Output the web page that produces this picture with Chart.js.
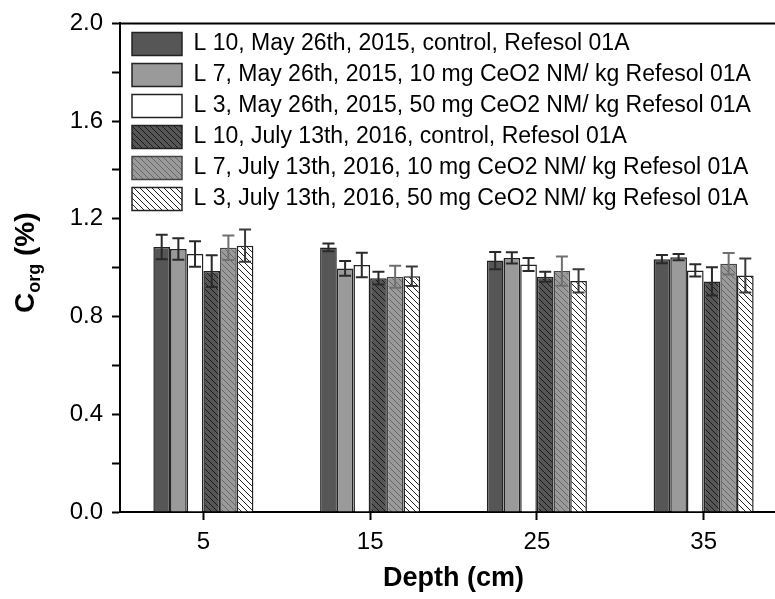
<!DOCTYPE html>
<html>
<head>
<meta charset="utf-8">
<script src="https://cdn.jsdelivr.net/npm/chart.js@4.4.1/dist/chart.umd.min.js"></script>
<style>
  html, body { margin: 0; padding: 0; overflow: hidden; background: #fff; }
  #chart { display: block; }
</style>
</head>
<body>
<canvas id="chart" width="789" height="599"></canvas>
<script>
// profundidades (cm)
const depths = ['5', '15', '25', '35'];

const seriesLabels = [
  'L 10, May 26th, 2015, control, Refesol 01A',
  'L 7, May 26th, 2015, 10 mg CeO2 NM/ kg Refesol 01A',
  'L 3, May 26th, 2015, 50 mg CeO2 NM/ kg Refesol 01A',
  'L 10, July 13th, 2016, control, Refesol 01A',
  'L 7, July 13th, 2016, 10 mg CeO2 NM/ kg Refesol 01A',
  'L 3, July 13th, 2016, 50 mg CeO2 NM/ kg Refesol 01A'
];

// Corg (%) por serie
const l10_2015 = [1.085, 1.083, 1.029, 1.035];
const l7_2015  = [1.077, 0.997, 1.040, 1.043];
const l3_2015  = [1.056, 1.011, 1.013, 0.989];
const l10_2016 = [0.986, 0.957, 0.963, 0.944];
const l7_2016  = [1.082, 0.963, 0.986, 1.016];
const l3_2016  = [1.090, 0.965, 0.946, 0.968];

// desviaciones
const l10_2015Err = [0.050, 0.016, 0.035, 0.017];
const l7_2015Err  = [0.044, 0.030, 0.023, 0.013];
const l3_2015Err  = [0.052, 0.050, 0.027, 0.025];
const l10_2016Err = [0.065, 0.026, 0.020, 0.058];
const l7_2016Err  = [0.050, 0.045, 0.060, 0.044];
const l3_2016Err  = [0.066, 0.040, 0.048, 0.070];

const yTicksMin = 0;
const yTicksMax = 2.0;
const yTickStep = 0.2;

function hatch(bg, lineColor) {
  const size = 6;
  const c = document.createElement('canvas');
  c.width = size; c.height = size;
  const g = c.getContext('2d');
  g.fillStyle = bg;
  g.fillRect(0, 0, size, size);
  g.strokeStyle = lineColor;
  g.lineWidth = 1;
  g.beginPath();
  g.moveTo(-1, -1); g.lineTo(size + 1, size + 1);
  g.moveTo(-1, size - 1); g.lineTo(1, size + 1);
  g.moveTo(size - 1, -1); g.lineTo(size + 1, 1);
  g.stroke();
  return g.createPattern(c, 'repeat');
}

const ctx = document.getElementById('chart').getContext('2d');

const styles = [
  { bg: '#565656', border: '#222', err: '#2a2a2a' },
  { bg: '#9a9a9a', border: '#222', err: '#2a2a2a' },
  { bg: '#ffffff', border: '#222', err: '#2a2a2a' },
  { bg: hatch('#565656', '#1a1a1a'), border: '#222', err: '#2a2a2a' },
  { bg: hatch('#9a9a9a', '#666'), border: '#444', err: '#707070' },
  { bg: hatch('#ffffff', '#222'), border: '#222', err: '#3a3a3a' }
];

const values = [l10_2015, l7_2015, l3_2015, l10_2016, l7_2016, l3_2016];
const errors = [l10_2015Err, l7_2015Err, l3_2015Err, l10_2016Err, l7_2016Err, l3_2016Err];

const datasets = seriesLabels.map((label, i) => ({
  label,
  data: values[i],
  errors: errors[i],
  errColor: styles[i].err,
  backgroundColor: styles[i].bg,
  borderColor: styles[i].border,
  borderWidth: 1.5,
  categoryPercentage: 0.6,
  barPercentage: 1.0
}));

// barras de error
const errorBars = {
  id: 'errorBars',
  afterDatasetsDraw(chart) {
    const c = chart.ctx;
    const y = chart.scales.y;
    chart.data.datasets.forEach((ds, di) => {
      const meta = chart.getDatasetMeta(di);
      meta.data.forEach((bar, i) => {
        const v = ds.data[i], e = ds.errors[i];
        const top = y.getPixelForValue(v + e);
        const bot = y.getPixelForValue(v - e);
        const half = 6;
        c.save();
        c.strokeStyle = ds.errColor;
        c.lineWidth = 2;
        c.beginPath();
        c.moveTo(bar.x, top); c.lineTo(bar.x, bot);
        c.moveTo(bar.x - half, top); c.lineTo(bar.x + half, top);
        c.moveTo(bar.x - half, bot); c.lineTo(bar.x + half, bot);
        c.stroke();
        c.restore();
      });
    });
  }
};

// marco superior + titulo eje Y con subindice
const frameAndTitle = {
  id: 'frameAndTitle',
  afterLayout(chart) {
    const lg = chart.legend;
    const a = chart.chartArea;
    lg.left = a.left + 4;
    lg.top = a.top + 1;
    lg.right = lg.left + 650;
    lg.bottom = lg.top + 220;
  },
  afterDraw(chart) {
    const c = chart.ctx;
    const a = chart.chartArea;
    c.save();
    c.strokeStyle = '#000';
    c.lineWidth = 2;
    c.beginPath();
    c.moveTo(a.left - 1, a.top);
    c.lineTo(a.right + 2, a.top);
    c.stroke();

    c.translate(34, 313);
    c.rotate(-Math.PI / 2);
    c.fillStyle = '#000';
    c.textBaseline = 'alphabetic';
    c.textAlign = 'left';
    c.font = 'bold 28px "Liberation Sans", Arial, sans-serif';
    c.fillText('C', 0, 0);
    let x = c.measureText('C').width;
    c.font = 'bold 18px "Liberation Sans", Arial, sans-serif';
    c.fillText('org', x, 6);
    x += c.measureText('org').width;
    c.font = 'bold 28px "Liberation Sans", Arial, sans-serif';
    c.fillText(' (%)', x, 0);
    c.restore();
  }
};

new Chart(ctx, {
  type: 'bar',
  data: { labels: depths, datasets },
  options: {
    responsive: false,
    animation: false,
    layout: { padding: { left: 0, right: 2, top: 21, bottom: 0 } },
    plugins: {
      legend: {
        position: 'chartArea',
        align: 'start',
        labels: {
          boxWidth: 50,
          boxHeight: 23,
          padding: 8,
          color: '#000',
          font: { family: '"Liberation Sans", Arial, sans-serif', size: 23 }
        }
      },
      tooltip: { enabled: false }
    },
    scales: {
      x: {
        afterFit: (s) => { s.height = 87; },
        grid: { offset: false, drawOnChartArea: false, tickLength: 8, tickWidth: 2, tickColor: '#000' },
        border: { color: '#000', width: 2 },
        ticks: { color: '#000', padding: 8, font: { family: '"Liberation Sans", Arial, sans-serif', size: 24 } },
        title: {
          display: true,
          text: 'Depth (cm)',
          color: '#000',
          padding: { top: 0, bottom: 4 },
          font: { family: '"Liberation Sans", Arial, sans-serif', size: 27, weight: 'bold' }
        }
      },
      y: {
        min: yTicksMin,
        max: yTicksMax,
        afterFit: (s) => { s.width = 120; },
        grid: { drawOnChartArea: false, tickLength: 8, tickWidth: 2, tickColor: '#000' },
        border: { color: '#000', width: 2 },
        ticks: {
          stepSize: yTickStep,
          autoSkip: false,
          color: '#000',
          padding: 9,
          font: { family: '"Liberation Sans", Arial, sans-serif', size: 24 },
          callback: (v, i) => (i % 2 === 0 ? Number(v).toFixed(1) : '')
        }
      }
    }
  },
  plugins: [errorBars, frameAndTitle]
});
</script>
</body>
</html>
